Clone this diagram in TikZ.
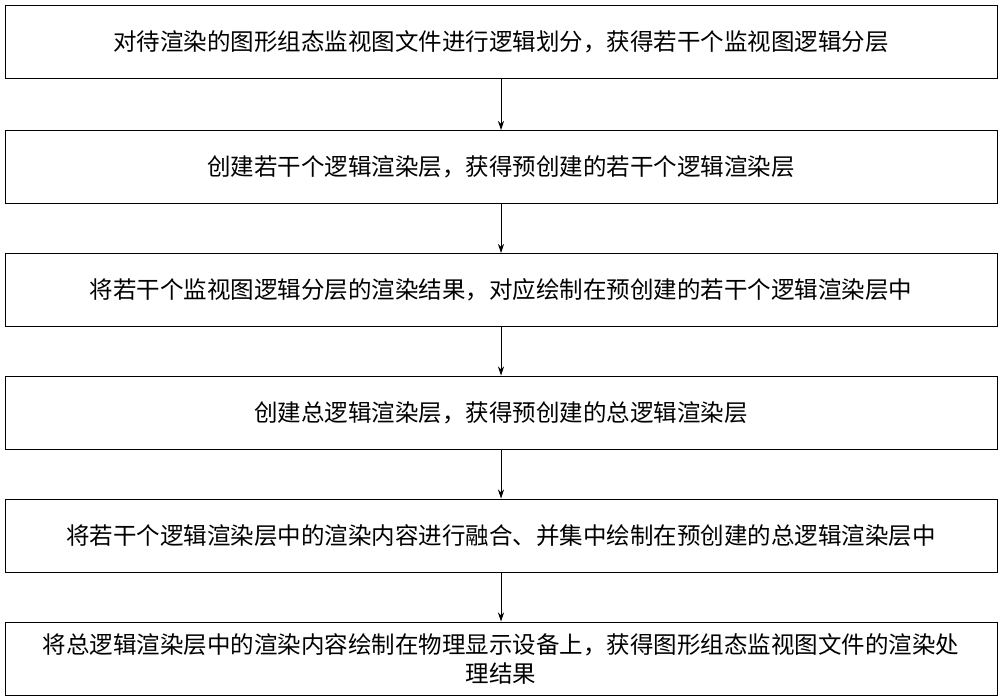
\documentclass[tikz,border=0pt]{standalone}
\usepackage{fontspec}
\newfontfamily\cjk{Noto Sans CJK SC}
\usetikzlibrary{arrows.meta}
\begin{document}
\begin{tikzpicture}[x=1pt,y=-1pt,
  stepbox/.style={draw,line width=1pt,minimum width=992pt,minimum height=73pt,font=\cjk\fontsize{23.5pt}{29pt}\selectfont,text width=935pt,align=center,inner sep=0pt},
  arr/.style={-{Stealth[length=9pt,width=6pt]},line width=0.8pt}]
\useasboundingbox (0,0) rectangle (1000,699);
\node[stepbox] (a) at (501,41.5) {对待渲染的图形组态监视图文件进行逻辑划分，获得若干个监视图逻辑分层};
\node[stepbox] (b) at (501,167) {创建若干个逻辑渲染层，获得预创建的若干个逻辑渲染层};
\node[stepbox] (c) at (501,290) {将若干个监视图逻辑分层的渲染结果，对应绘制在预创建的若干个逻辑渲染层中};
\node[stepbox] (d) at (501,412.5) {创建总逻辑渲染层，获得预创建的总逻辑渲染层};
\node[stepbox] (e) at (501,535.5) {将若干个逻辑渲染层中的渲染内容进行融合、并集中绘制在预创建的总逻辑渲染层中};
\node[stepbox] (f) at (501,658.5) {将总逻辑渲染层中的渲染内容绘制在物理显示设备上，获得图形组态监视图文件的渲染处\\理结果};
\draw[arr] (a) -- (b);
\draw[arr] (b) -- (c);
\draw[arr] (c) -- (d);
\draw[arr] (d) -- (e);
\draw[arr] (e) -- (f);
\end{tikzpicture}
\end{document}
